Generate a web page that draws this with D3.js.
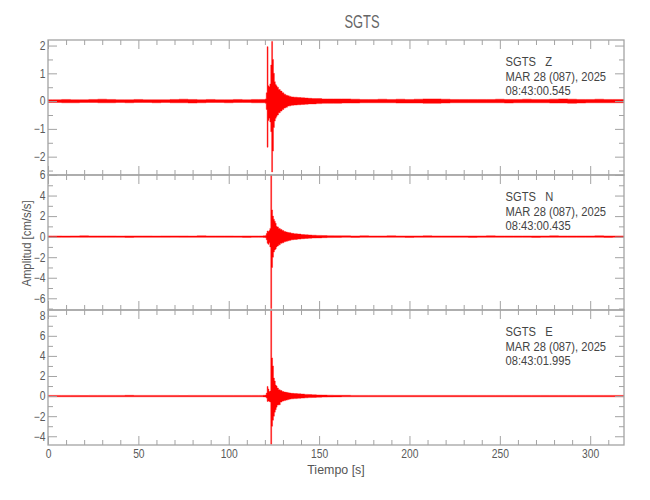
<!DOCTYPE html>
<html><head><meta charset="utf-8">
<script src="https://cdn.jsdelivr.net/npm/d3@7"></script>
<style>
html,body{margin:0;padding:0;background:#fff;}
text{font-family:"Liberation Sans",Arial,sans-serif;}
</style></head>
<body>
<svg id="chart" width="650" height="500"></svg>
<script>
// ---------------- data ----------------
const title = "SGTS";
const xLabel = "Tiempo [s]";
const yLabel = "Amplitud [cm/s/s]";
const xTicks = [0, 50, 100, 150, 200, 250, 300];
const xMinorTicks = [10,20,30,40,60,70,80,90,110,120,130,140,160,170,180,190,210,220,230,240,260,270,280,290,310];
const xDomain = [0, 318.7];

const stationLabels = ["SGTS   Z", "SGTS   N", "SGTS   E"];
const dateLabels = ["MAR 28 (087), 2025", "MAR 28 (087), 2025", "MAR 28 (087), 2025"];
const timeLabels = ["08:43:00.545", "08:43:00.435", "08:43:01.995"];

const yDomainZ = [-2.66, 2.2];
const yDomainN = [-7.14, 6.0];
const yDomainE = [-4.87, 8.57];
const yTicksZ = [-2, -1, 0, 1, 2];
const yTicksN = [-6, -4, -2, 0, 2, 4, 6];
const yTicksE = [-4, -2, 0, 2, 4, 6, 8];
const yMinorZ = [-2.5, -1.5, -0.5, 0.5, 1.5];
const yMinorN = [-7, -5, -3, -1, 1, 3, 5];
const yMinorE = [-3, -1, 1, 3, 5, 7];

// time of each envelope bin [s]
const times = [0,5,10,15,20,25,30,35,40,45,50,55,60,65,70,75,80,85,90,95,100,105,110,115,
  118,120,
  120.5,121,121.5,122,122.5,123,123.5,124,124.5,125,125.5,126,126.5,127,
  128,129,130,131,132,133,134,135,
  137,139,141,143,145,147,150,153,156,160,
  165,170,175,180,185,190,195,200,205,210,215,220,225,230,235,240,245,250,255,260,265,270,275,280,285,290,295,300,305,310,315,319];

// upper / lower envelope of each trace per bin [cm/s/s]
const zHigh = [0.05,0.05,0.06,0.05,0.05,0.06,0.07,0.06,0.05,0.05,0.06,0.05,0.05,0.05,0.06,0.07,0.06,0.05,0.06,0.05,0.05,0.06,0.05,0.06,
  0.06,0.06,
  0.08,0.30,1.96,0.55,0.52,0.62,1.30,2.15,1.50,1.00,0.70,0.60,0.55,0.50,
  0.42,0.36,0.30,0.25,0.21,0.19,0.17,0.15,
  0.14,0.13,0.12,0.11,0.10,0.09,0.09,0.08,0.08,0.08,
  0.08,0.07,0.06,0.06,0.07,0.06,0.07,0.06,0.07,0.08,0.08,0.07,0.06,0.06,0.06,0.06,0.06,0.07,0.06,0.06,0.07,0.06,0.06,0.07,0.08,0.07,0.06,0.06,0.07,0.06,0.06,0.06];
const zLow = [-0.05,-0.05,-0.06,-0.06,-0.05,-0.05,-0.06,-0.06,-0.05,-0.06,-0.05,-0.05,-0.06,-0.05,-0.06,-0.06,-0.07,-0.06,-0.05,-0.05,-0.06,-0.05,-0.05,-0.06,
  -0.06,-0.06,
  -0.08,-0.30,-1.66,-0.70,-0.62,-0.75,-1.10,-2.55,-1.80,-0.95,-0.72,-0.62,-0.55,-0.50,
  -0.42,-0.36,-0.30,-0.25,-0.22,-0.18,-0.17,-0.15,
  -0.14,-0.13,-0.12,-0.11,-0.10,-0.10,-0.09,-0.08,-0.08,-0.08,
  -0.07,-0.07,-0.06,-0.06,-0.06,-0.06,-0.07,-0.07,-0.07,-0.08,-0.08,-0.07,-0.06,-0.06,-0.06,-0.06,-0.06,-0.06,-0.07,-0.06,-0.06,-0.06,-0.06,-0.07,-0.07,-0.08,-0.07,-0.06,-0.06,-0.06,-0.06,-0.06];

const nHigh = [0.07,0.07,0.06,0.07,0.08,0.07,0.07,0.07,0.06,0.07,0.07,0.07,0.06,0.07,0.07,0.07,0.06,0.08,0.07,0.07,0.07,0.06,0.07,0.07,
  0.07,0.08,
  0.10,0.30,0.55,0.50,0.60,0.80,5.95,2.60,2.00,1.70,1.50,1.30,1.00,0.95,
  0.80,0.70,0.60,0.50,0.45,0.40,0.38,0.32,
  0.28,0.25,0.20,0.18,0.16,0.14,0.12,0.10,0.09,0.08,
  0.08,0.07,0.08,0.07,0.07,0.08,0.07,0.07,0.07,0.08,0.07,0.07,0.07,0.07,0.07,0.07,0.08,0.07,0.07,0.07,0.07,0.07,0.07,0.08,0.07,0.07,0.07,0.07,0.08,0.07,0.07,0.07];
const nLow = [-0.07,-0.07,-0.07,-0.06,-0.07,-0.07,-0.07,-0.07,-0.07,-0.08,-0.07,-0.07,-0.07,-0.07,-0.06,-0.07,-0.07,-0.07,-0.07,-0.07,-0.07,-0.07,-0.08,-0.07,
  -0.07,-0.08,
  -0.10,-0.30,-0.65,-0.75,-0.60,-1.00,-7.00,-3.00,-2.00,-1.50,-1.30,-1.20,-1.00,-0.90,
  -0.80,-0.65,-0.60,-0.50,-0.45,-0.40,-0.36,-0.30,
  -0.27,-0.24,-0.20,-0.17,-0.15,-0.13,-0.12,-0.10,-0.09,-0.08,
  -0.07,-0.08,-0.07,-0.07,-0.07,-0.07,-0.07,-0.08,-0.07,-0.07,-0.07,-0.07,-0.07,-0.07,-0.08,-0.07,-0.07,-0.07,-0.07,-0.07,-0.07,-0.08,-0.07,-0.07,-0.07,-0.07,-0.07,-0.07,-0.07,-0.08,-0.07,-0.07];

const eHigh = [0.07,0.07,0.07,0.07,0.06,0.07,0.07,0.07,0.07,0.08,0.07,0.07,0.07,0.07,0.07,0.06,0.07,0.07,0.07,0.07,0.07,0.07,0.07,0.07,
  0.07,0.08,
  0.10,0.30,0.96,0.70,0.45,0.50,8.50,3.80,3.00,1.80,1.50,1.10,1.00,0.80,
  0.63,0.55,0.45,0.40,0.37,0.33,0.30,0.27,
  0.25,0.22,0.20,0.17,0.15,0.13,0.11,0.10,0.09,0.08,
  0.08,0.07,0.07,0.07,0.07,0.07,0.07,0.07,0.07,0.07,0.07,0.07,0.07,0.07,0.07,0.07,0.07,0.07,0.07,0.07,0.07,0.07,0.07,0.07,0.07,0.07,0.07,0.07,0.07,0.07,0.07,0.07];
const eLow = [-0.07,-0.07,-0.07,-0.07,-0.07,-0.07,-0.07,-0.07,-0.07,-0.07,-0.07,-0.07,-0.07,-0.07,-0.07,-0.07,-0.07,-0.07,-0.07,-0.07,-0.07,-0.07,-0.07,-0.07,
  -0.07,-0.08,
  -0.10,-0.20,-0.53,-0.50,-0.53,-0.60,-4.80,-3.00,-2.40,-2.00,-1.60,-1.35,-1.10,-0.90,
  -0.86,-0.60,-0.50,-0.45,-0.40,-0.35,-0.30,-0.27,
  -0.25,-0.22,-0.20,-0.17,-0.15,-0.13,-0.11,-0.10,-0.09,-0.08,
  -0.07,-0.07,-0.07,-0.07,-0.07,-0.07,-0.07,-0.07,-0.07,-0.07,-0.07,-0.07,-0.07,-0.07,-0.07,-0.07,-0.07,-0.07,-0.07,-0.07,-0.07,-0.07,-0.07,-0.07,-0.07,-0.07,-0.07,-0.07,-0.07,-0.07,-0.07,-0.07];

// ---------------- layout ----------------
const svg = d3.select("#chart");
const left = 48, right = 624;
const panelTop = [40, 175, 310];
const panelH = 135;
const axisColor = "#a3a3a3";
const textColor = "#555";
const traceColor = "#ff0000";
const FONT = "'Liberation Sans',Arial,sans-serif";

const x = d3.scaleLinear().domain(xDomain).range([left, right]);

const panels = [
  {domain: yDomainZ, ticks: yTicksZ, minor: yMinorZ, hi: zHigh, lo: zLow},
  {domain: yDomainN, ticks: yTicksN, minor: yMinorN, hi: nHigh, lo: nLow},
  {domain: yDomainE, ticks: yTicksE, minor: yMinorE, hi: eHigh, lo: eLow}
];

function addText(parent, px, py, str, size, sx, anchor, color){
  return parent.append("text")
    .attr("transform", `translate(${px},${py}) scale(${sx},1)`)
    .attr("text-anchor", anchor || "start")
    .attr("font-family", FONT)
    .attr("font-size", size)
    .attr("fill", color || textColor)
    .text(str.replace(/ /g, "\u00A0"));
}

const fmt = d3.format("d");
function styleAxis(g){
  g.select(".domain").remove();
  g.attr("font-family", null);
  g.selectAll("line").attr("stroke", axisColor).attr("stroke-width", 1);
  g.selectAll("text").attr("fill", "#5a5a5a").attr("font-size", 12)
    .attr("font-family", FONT)
    .attr("transform", "scale(0.86,1)");
}

panels.forEach((p, i) => {
  const top = panelTop[i], bottom = top + panelH;
  const y = d3.scaleLinear().domain(p.domain).range([bottom, top]);
  const g = svg.append("g");

  const clipId = "clip" + i;
  svg.append("clipPath").attr("id", clipId).append("rect")
    .attr("x", left).attr("y", top).attr("width", right - left).attr("height", panelH);

  const data = times.map((t, k) => ({t: t, hi: p.hi[k], lo: p.lo[k]}));
  const area = d3.area().curve(d3.curveStep)
    .x(d => x(d.t)).y0(d => y(d.lo)).y1(d => y(d.hi));
  g.append("path").datum(data)
    .attr("clip-path", `url(#${clipId})`)
    .attr("d", area)
    .attr("fill", traceColor)
    .attr("stroke", traceColor)
    .attr("stroke-width", 0.4);

  // frame
  g.append("rect").attr("x", left).attr("y", top).attr("width", right - left).attr("height", panelH)
    .attr("fill", "none").attr("stroke", axisColor).attr("stroke-width", 1.3);

  // y axes (left with labels, right ticks only)
  g.append("g").attr("transform", `translate(${left},0)`)
    .call(d3.axisLeft(y).tickValues(p.ticks).tickSize(-9).tickPadding(3).tickFormat(fmt)).call(styleAxis);
  g.append("g").attr("transform", `translate(${left},0)`)
    .call(d3.axisLeft(y).tickValues(p.minor).tickSize(-5).tickFormat("")).call(styleAxis);
  g.append("g").attr("transform", `translate(${right},0)`)
    .call(d3.axisRight(y).tickValues(p.ticks).tickSize(-9).tickFormat("")).call(styleAxis);
  g.append("g").attr("transform", `translate(${right},0)`)
    .call(d3.axisRight(y).tickValues(p.minor).tickSize(-5).tickFormat("")).call(styleAxis);

  // x axes top & bottom
  g.append("g").attr("transform", `translate(0,${top})`)
    .call(d3.axisTop(x).tickValues(xTicks).tickSize(-9).tickFormat("")).call(styleAxis);
  g.append("g").attr("transform", `translate(0,${top})`)
    .call(d3.axisTop(x).tickValues(xMinorTicks).tickSize(-5).tickFormat("")).call(styleAxis);
  g.append("g").attr("transform", `translate(0,${bottom})`)
    .call(d3.axisBottom(x).tickValues(xTicks).tickSize(-9).tickPadding(4)
      .tickFormat(i === 2 ? fmt : "")).call(styleAxis);
  g.append("g").attr("transform", `translate(0,${bottom})`)
    .call(d3.axisBottom(x).tickValues(xMinorTicks).tickSize(-5).tickFormat("")).call(styleAxis);

  // annotation
  [stationLabels[i], dateLabels[i], timeLabels[i]].forEach((s, k) => {
    addText(g, 505.5, top + 26 + k * 14.5, s, 13, 0.86, "start", "#444");
  });
});

// title and axis labels
addText(svg, 362, 28, title, 19, 0.68, "middle", "#666");
addText(svg, 336, 474, xLabel, 13.5, 0.92, "middle", textColor);
svg.append("text").attr("transform", "translate(31,243.5) rotate(-90) scale(0.84,1)")
  .attr("text-anchor", "middle").attr("font-family", FONT)
  .attr("fill", textColor).attr("font-size", 13.5).text(yLabel);
</script>
</body></html>
